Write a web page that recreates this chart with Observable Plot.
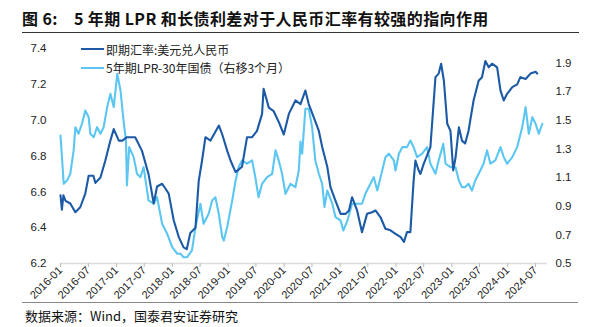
<!DOCTYPE html>
<html>
<head>
<meta charset="utf-8">
<script src="https://cdn.jsdelivr.net/npm/d3@7"></script>
<script src="https://cdn.jsdelivr.net/npm/@observablehq/plot@0.6"></script>
<style>
  html, body { margin: 0; padding: 0; background: #fff; }
  #wrap { position: relative; width: 594px; height: 327px; overflow: hidden; font-family: "Noto Sans CJK SC", "Liberation Sans", sans-serif; }
  #title { position: absolute; left: 22px; top: 6px; font-size: 16px; font-weight: bold; color: #111; white-space: nowrap; letter-spacing: 0.4px; }
  #rule1 { position: absolute; left: 22px; width: 557px; top: 32px; height: 0; border-top: 1.5px solid #333; }
  #chart { position: absolute; left: 0; top: 36px; }
  #rule2 { position: absolute; left: 22px; width: 556px; top: 302px; height: 0; border-top: 1.5px solid #888; }
  #caption { position: absolute; left: 25px; top: 307px; font-size: 13px; line-height: 17px; color: #111; white-space: nowrap; font-family: "Noto Sans CJK SC", "Liberation Serif", serif; }
  #legend { position: absolute; left: 81px; top: 40px; font-size: 12px; color: #222; }
  .lg { display: flex; align-items: center; height: 18.5px; white-space: nowrap; }
  .sw { display: inline-block; width: 23px; height: 0; border-top: 2.2px solid; margin-right: 2px; }
</style>
</head>
<body>
<div id="wrap">
  <div id="title">图 6:&nbsp;&nbsp;&nbsp; 5 年期 LPR 和长债利差对于人民币汇率有较强的指向作用</div>
  <div id="rule1"></div>
  <div id="chart"></div>
  <div id="legend">
    <div class="lg"><span class="sw" style="border-color:#1C5AA6"></span>即期汇率:美元兑人民币</div>
    <div class="lg"><span class="sw" style="border-color:#5CC6F2"></span>5年期LPR-30年国债（右移3个月）</div>
  </div>
  <div id="rule2"></div>
  <div id="caption">数据来源：Wind，国泰君安证券研究</div>
</div>
<script>
// ---- Data ----
const fxDates = ["2016-01-01","2016-01-10","2016-01-20","2016-02-03","2016-03-05","2016-04-07","2016-05-09","2016-06-11","2016-07-03","2016-08-03","2016-08-16","2016-09-18","2016-10-20","2016-11-22","2016-12-14","2017-01-16","2017-02-08","2017-03-10","2017-05-03","2017-06-16","2017-07-29","2017-09-01","2017-09-23","2017-10-26","2017-11-15","2017-12-08","2018-01-10","2018-02-12","2018-03-15","2018-04-05","2018-04-28","2018-06-01","2018-06-22","2018-07-14","2018-08-05","2018-09-07","2018-09-29","2018-11-01","2018-11-23","2018-12-25","2019-01-16","2019-02-18","2019-04-01","2019-05-04","2019-06-06","2019-07-08","2019-08-10","2019-08-20","2019-09-23","2019-10-25","2019-11-27","2019-12-30","2020-02-01","2020-03-15","2020-04-17","2020-05-19","2020-06-10","2020-07-13","2020-08-15","2020-09-06","2020-10-09","2020-10-30","2020-12-02","2021-01-04","2021-02-06","2021-02-28","2021-03-20","2021-04-22","2021-05-24","2021-06-26","2021-07-29","2021-08-20","2021-09-22","2021-10-24","2021-11-26","2021-12-29","2022-02-01","2022-02-22","2022-03-14","2022-04-05","2022-04-26","2022-05-08","2022-05-29","2022-06-10","2022-07-01","2022-08-14","2022-09-16","2022-10-07","2022-10-23","2022-11-10","2022-12-02","2022-12-23","2023-01-10","2023-01-25","2023-02-16","2023-03-08","2023-03-29","2023-04-20","2023-05-23","2023-06-25","2023-07-17","2023-08-08","2023-08-30","2023-09-21","2023-10-24","2023-11-15","2023-12-06","2023-12-28","2024-01-31","2024-03-03","2024-03-24","2024-04-27","2024-05-29","2024-07-01","2024-07-12"];
const fxValues = [6.58,6.50,6.58,6.55,6.535,6.486,6.514,6.59,6.69,6.69,6.65,6.68,6.775,6.886,6.95,6.886,6.886,6.905,6.905,6.83,6.70,6.535,6.63,6.645,6.62,6.59,6.44,6.347,6.29,6.28,6.37,6.40,6.66,6.775,6.905,6.886,6.92,6.97,6.92,6.83,6.775,6.71,6.74,6.905,6.905,6.94,7.035,7.175,7.07,7.05,6.99,6.92,7.035,7.11,7.09,7.165,7.09,7.015,6.94,6.85,6.74,6.626,6.55,6.477,6.477,6.496,6.57,6.496,6.375,6.477,6.486,6.496,6.458,6.394,6.385,6.366,6.347,6.32,6.375,6.375,6.66,6.775,6.72,6.70,6.756,6.85,7.24,7.26,7.315,7.22,6.98,6.94,6.72,6.79,6.96,6.886,6.87,6.94,7.11,7.22,7.24,7.33,7.295,7.315,7.295,7.165,7.11,7.147,7.184,7.20,7.24,7.23,7.26,7.27,7.26];

const spreadDates = ["2016-01-01","2016-01-22","2016-02-13","2016-03-05","2016-03-27","2016-04-07","2016-04-28","2016-05-20","2016-06-11","2016-07-03","2016-07-14","2016-08-05","2016-08-27","2016-09-18","2016-10-09","2016-11-01","2016-11-22","2016-12-14","2017-01-06","2017-01-27","2017-02-18","2017-03-04","2017-03-10","2017-03-25","2017-04-23","2017-05-15","2017-06-06","2017-06-27","2017-07-29","2017-09-01","2017-09-23","2017-10-26","2017-11-28","2017-12-31","2018-02-02","2018-02-23","2018-03-15","2018-04-07","2018-05-09","2018-06-01","2018-07-03","2018-07-24","2018-08-26","2018-09-18","2018-10-09","2018-10-31","2018-11-23","2018-12-03","2018-12-25","2019-01-27","2019-02-18","2019-03-10","2019-04-01","2019-05-04","2019-06-06","2019-06-27","2019-07-18","2019-08-10","2019-09-12","2019-10-15","2019-11-06","2019-11-27","2019-12-19","2020-01-10","2020-02-12","2020-03-15","2020-04-06","2020-04-17","2020-04-28","2020-05-19","2020-06-10","2020-07-02","2020-07-23","2020-08-15","2020-09-06","2020-09-21","2020-10-09","2020-11-11","2020-12-02","2021-01-04","2021-01-22","2021-02-18","2021-03-20","2021-04-22","2021-05-24","2021-06-15","2021-07-18","2021-08-09","2021-09-01","2021-10-03","2021-10-24","2021-11-15","2021-12-18","2021-12-29","2022-01-20","2022-02-12","2022-03-14","2022-04-05","2022-04-26","2022-05-19","2022-06-21","2022-07-23","2022-08-14","2022-09-16","2022-10-07","2022-11-06","2022-11-21","2022-12-23","2023-01-25","2023-02-16","2023-03-08","2023-03-29","2023-04-20","2023-05-12","2023-06-03","2023-07-06","2023-07-27","2023-08-19","2023-09-10","2023-10-12","2023-11-15","2023-12-06","2023-12-28","2024-01-31","2024-03-03","2024-04-05","2024-04-27","2024-05-18","2024-06-10","2024-07-01","2024-07-22","2024-08-14"];
const spreadValues = [1.393,1.056,1.08,1.126,1.289,1.451,1.405,1.475,1.568,1.521,1.405,1.381,1.451,1.405,1.451,1.591,1.684,1.591,1.824,1.707,1.475,1.358,1.044,1.312,1.242,1.126,1.102,1.172,0.94,0.917,0.963,0.777,0.707,0.614,0.568,0.568,0.544,0.544,0.591,0.753,0.917,0.777,0.847,0.94,0.963,0.847,0.684,0.66,0.753,0.94,1.079,1.172,1.219,1.196,1.219,1.102,0.963,1.056,1.102,1.126,1.289,1.219,1.126,0.986,1.056,1.033,1.149,1.35,1.266,1.58,1.58,1.451,1.219,1.126,1.056,0.893,1.009,0.917,0.823,0.80,0.73,0.80,0.917,0.917,0.917,0.986,1.056,1.102,1.009,1.149,1.242,1.266,1.219,1.149,1.266,1.312,1.312,1.358,1.312,1.242,1.266,1.312,1.196,1.126,1.219,1.335,1.196,1.172,1.172,1.079,1.033,1.033,1.056,1.009,1.079,1.149,1.196,1.289,1.196,1.219,1.312,1.242,1.196,1.242,1.312,1.451,1.591,1.405,1.521,1.475,1.405,1.475];

const leftTicks = [6.2, 6.4, 6.6, 6.8, 7.0, 7.2, 7.4];
const rightTicks = [0.5, 0.7, 0.9, 1.1, 1.3, 1.5, 1.7, 1.9];
const xTickLabels = ["2016-01","2016-07","2017-01","2017-07","2018-01","2018-07","2019-01","2019-07","2020-01","2020-07","2021-01","2021-07","2022-01","2022-07","2023-01","2023-07","2024-01","2024-07"];
const leftDomain = [6.2, 7.4];
const rightDomain = [0.5, 2.0];

// ---- Build ----
const parse = d3.utcParse("%Y-%m-%d");
const toLeft = v => leftDomain[0] + (v - rightDomain[0]) * (leftDomain[1] - leftDomain[0]) / (rightDomain[1] - rightDomain[0]);
const fromLeft = v => rightDomain[0] + (v - leftDomain[0]) * (rightDomain[1] - rightDomain[0]) / (leftDomain[1] - leftDomain[0]);

const fx = fxDates.map((d, i) => ({date: parse(d), value: fxValues[i]}));
const spread = spreadDates.map((d, i) => ({date: parse(d), value: toLeft(spreadValues[i])}));
const xTicks = xTickLabels.map(s => d3.utcParse("%Y-%m")(s));

const tickFont = "'Liberation Sans', Arial, sans-serif";

const chart = Plot.plot({
  width: 594,
  height: 267,
  marginLeft: 60,
  marginRight: 47,
  marginTop: 12,
  marginBottom: 40,
  style: {fontFamily: tickFont, fontSize: "11px", color: "#222", background: "transparent"},
  x: {type: "utc", domain: [parse("2016-01-01"), parse("2024-09-17")]},
  y: {domain: leftDomain},
  marks: [
    Plot.ruleY([leftDomain[0]], {stroke: "#dcdcdc", strokeWidth: 1.5}),
    Plot.axisX({ticks: xTicks, tickFormat: d3.utcFormat("%Y-%m"), tickRotate: -45, tickSize: 4, tickPadding: 1, stroke: "#bbb", fontSize: 11, label: null, fill: "#222"}),
    Plot.axisY({ticks: leftTicks, tickFormat: d => d.toFixed(1), tickSize: 0, tickPadding: 14, label: null, anchor: "left", fontSize: 11.5, fill: "#222", style: {letterSpacing: "1.2px"}}),
    Plot.axisY({ticks: rightTicks.map(toLeft), tickFormat: d => fromLeft(d).toFixed(1), tickSize: 0, tickPadding: 8, label: null, anchor: "right", fontSize: 11.5, fill: "#222", style: {letterSpacing: "1.2px"}}),
    Plot.line(spread, {x: "date", y: "value", stroke: "#5CC6F2", strokeWidth: 2.1}),
    Plot.line(fx, {x: "date", y: "value", stroke: "#1C5AA6", strokeWidth: 2.1})
  ]
});
document.getElementById("chart").appendChild(chart);
</script>
</body>
</html>
